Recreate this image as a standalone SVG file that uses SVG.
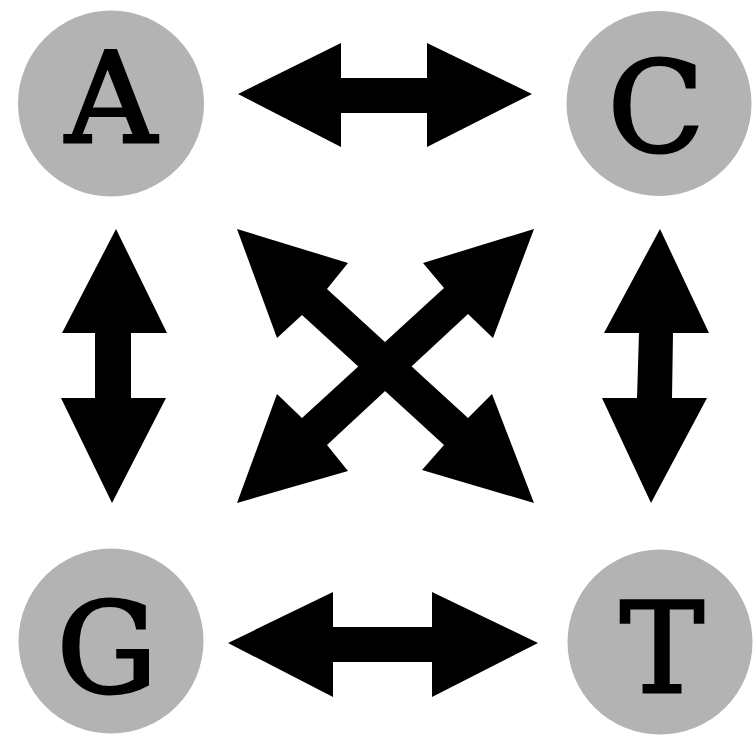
<svg xmlns="http://www.w3.org/2000/svg" width="754" height="737" viewBox="0 0 754 737">
<style>
.node circle{fill:#b3b3b3}
.node text{font-family:"DejaVu Serif","Liberation Serif",serif;font-size:126px;fill:#000;stroke:#000;stroke-width:3;stroke-linejoin:miter;text-anchor:middle}
.conn polygon{fill:#000}
</style>
<rect width="754" height="737" fill="#fff"/>
<g id="A" class="node"><circle cx="111" cy="103.5" r="93"/><text x="111" y="142">A</text></g>
<g id="C" class="node"><circle cx="659" cy="103.5" r="92.5"/><text x="656" y="151">C</text></g>
<g id="G" class="node"><circle cx="111" cy="641" r="92.5"/><text x="107" y="692">G</text></g>
<g id="T" class="node"><circle cx="660" cy="642" r="92.5"/><text x="662" y="692">T</text></g>
<g id="connectors" class="conn">
<polygon id="A-C" points="238,94 341,43 341,78 427,78 427,43 532,94 427,147 427,113 341,113 341,147"/>
<polygon id="G-T" points="228,643 333,592 333,627 432,627 432,592 538,643 432,697 432,662 333,662 333,697"/>
<polygon id="A-G" points="116,229 167,333 131,333 131,398 166,398 112,503 61,398 95,398 95,333 62,333"/>
<polygon id="C-T" points="660,229 709,333 673,333 672,398 707,398 651,503 602,398 637,398 639,333 604,333"/>
<polygon id="A-T" points="237,229 348,263 327,289 468,418 492,394 534,503 422,470 444,445 302,315 277,338"/>
<polygon id="C-G" points="534,229 493,338 468,314 327,445 348,471 237,503 277,394 302,418 444,288 423,263"/>
</g>
</svg>
